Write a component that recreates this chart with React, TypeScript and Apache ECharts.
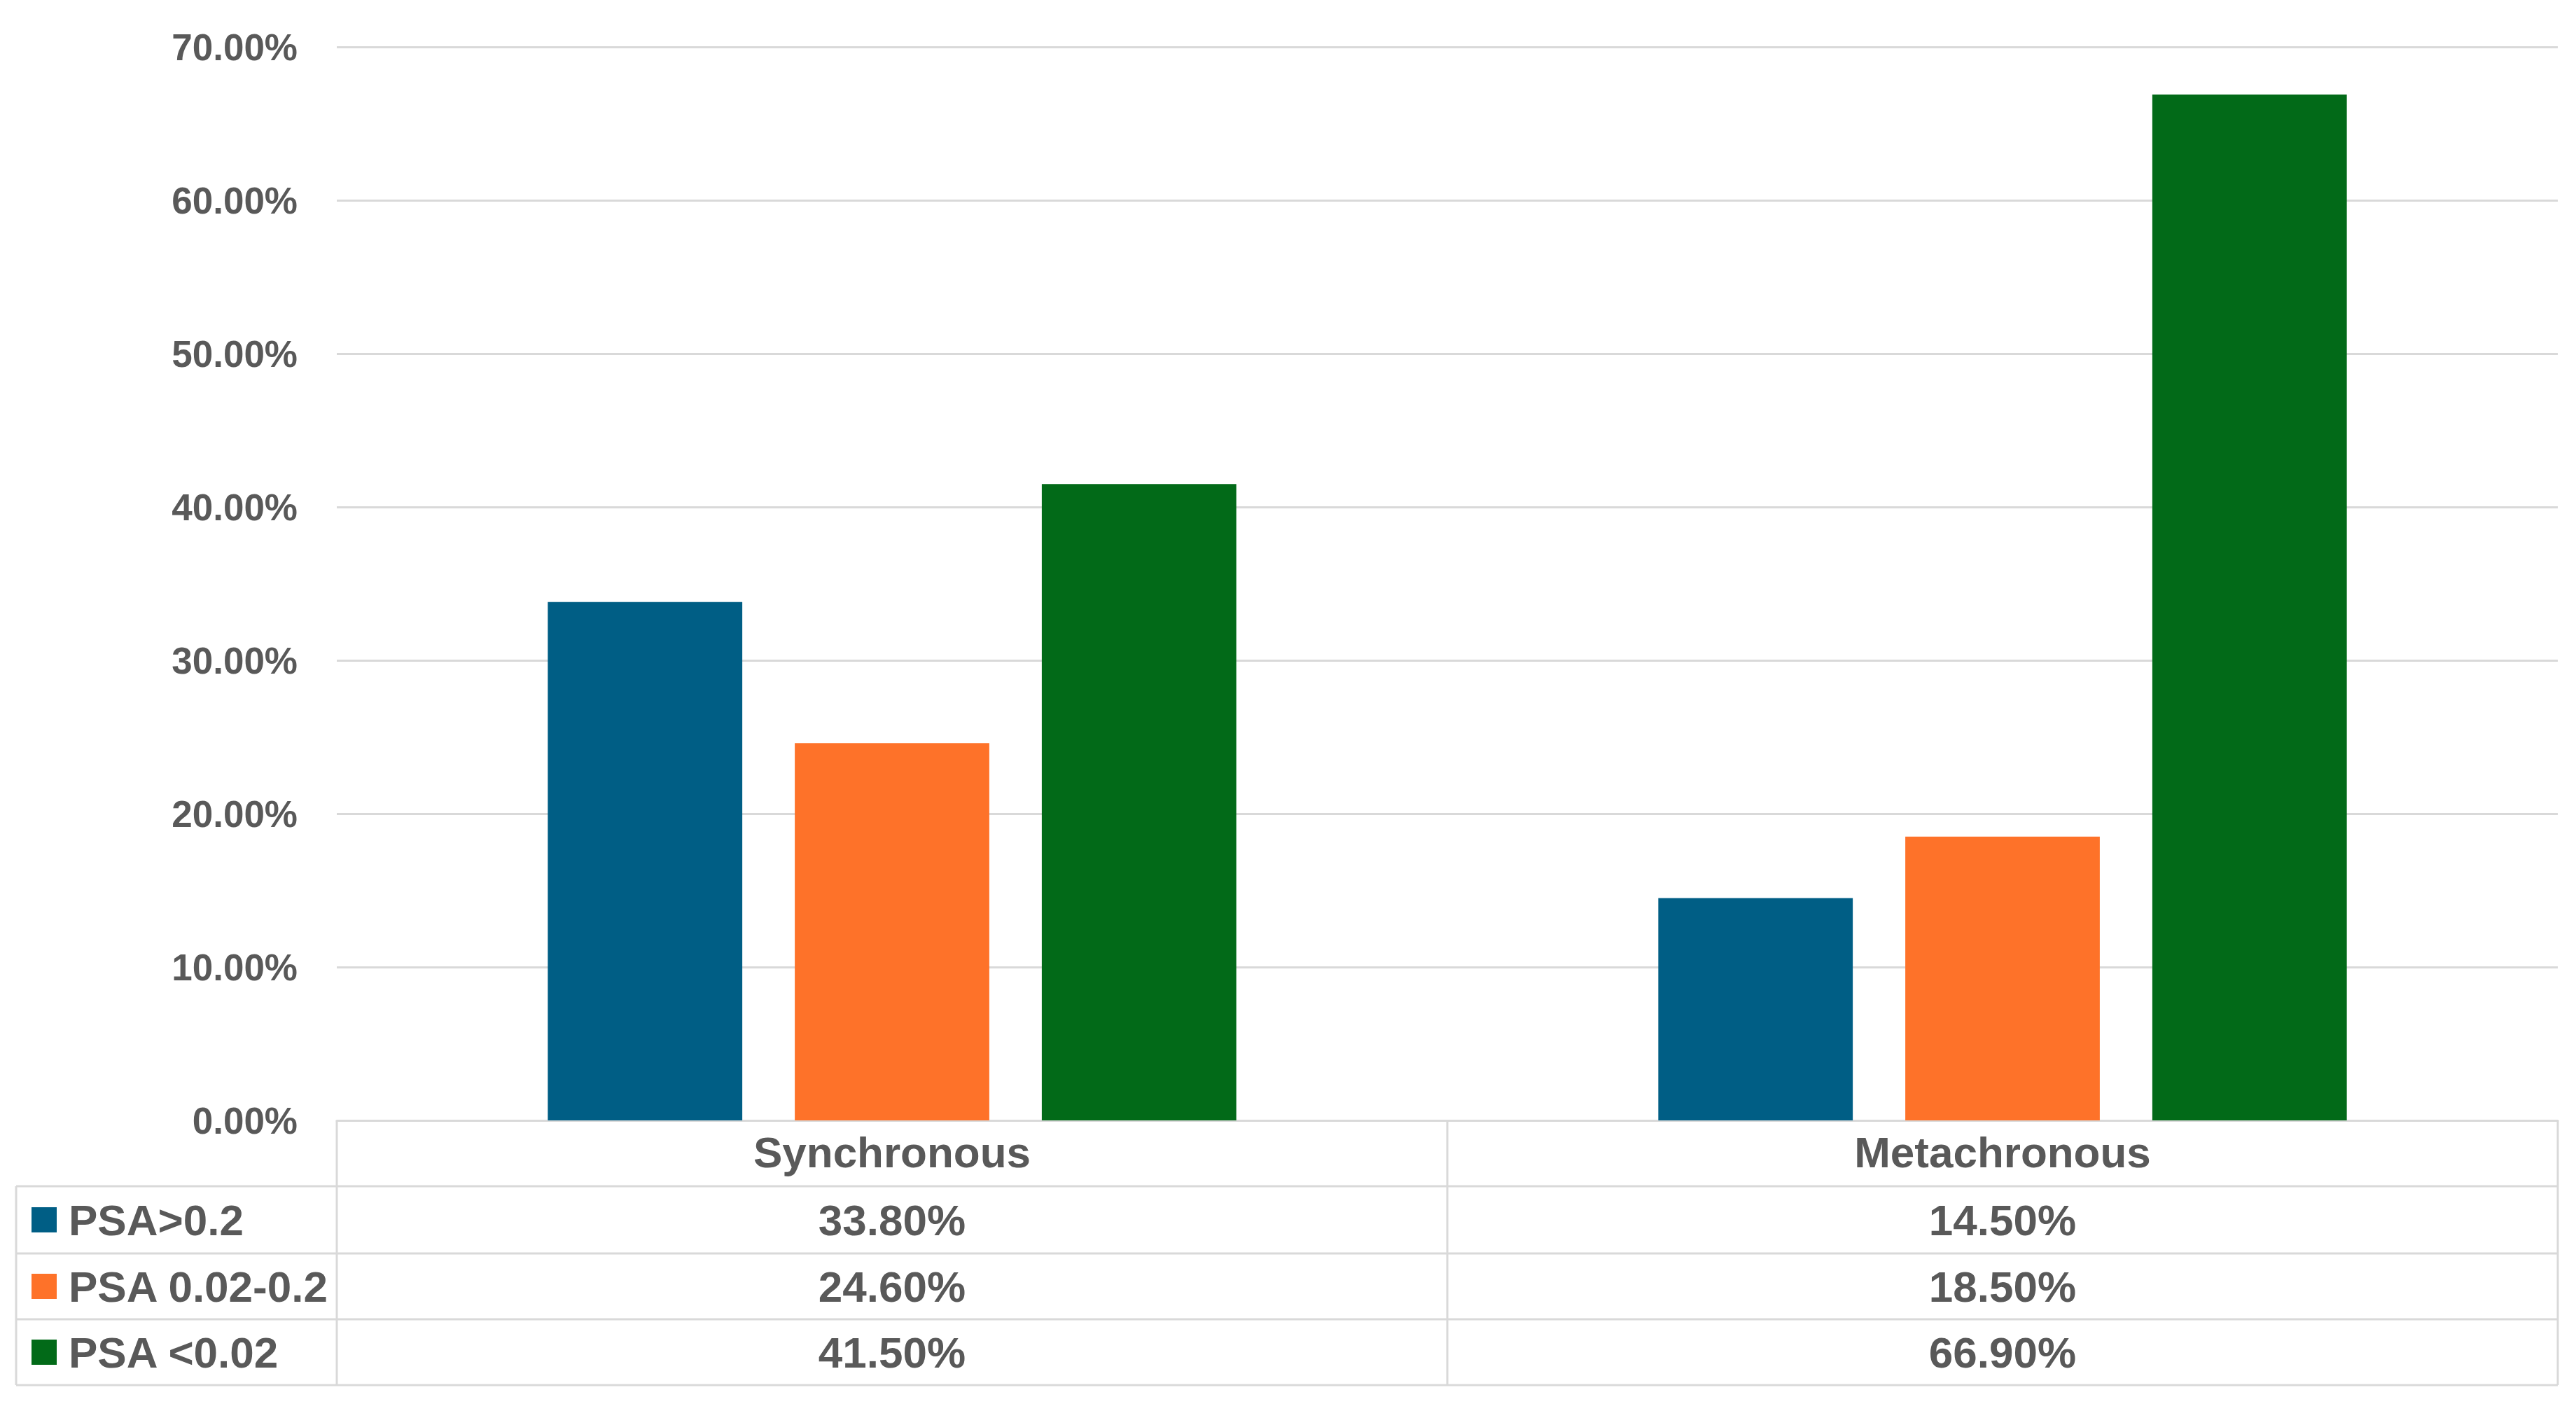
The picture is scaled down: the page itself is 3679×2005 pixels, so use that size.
import React, { useEffect, useRef } from "react";
import * as echarts from "echarts";

const categories = ["Synchronous", "Metachronous"];
const seriesNames = ["PSA>0.2", "PSA 0.02-0.2", "PSA <0.02"];
const psaHigh = [33.8, 14.5];
const psaMid = [24.6, 18.5];
const psaLow = [41.5, 66.9];
const seriesValues = [psaHigh, psaMid, psaLow];
const seriesColors = ["#005E85", "#FE7229", "#026A18"];
const yMin = 0;
const yMax = 70;
const yInterval = 10;

const W = 3679;
const H = 2005;
const GRID_LEFT = 481;
const GRID_RIGHT_X = 3653;
const GRID_TOP = 67;
const ZERO_Y = 1600;
const TABLE_LEFT = 23;
const ROW_LINES = [1694, 1790, 1884, 1978];
const TEXT_COLOR = "#595959";
const LINE_COLOR = "#D9D9D9";
const FONT = "Liberation Sans, Arial, sans-serif";
const TABLE_FONT_SIZE = 62;

const fmtPct = (v: number) => v.toFixed(2) + "%";

export default function App() {
  const ref = useRef<HTMLDivElement>(null);
  useEffect(() => {
    if (!ref.current) return;
    const chart = echarts.init(ref.current, undefined, { renderer: "svg", width: W, height: H });
    chart.setOption({
      animation: false,
      backgroundColor: "#ffffff",
      textStyle: { fontFamily: FONT },
      grid: {
        left: GRID_LEFT,
        right: W - GRID_RIGHT_X,
        top: GRID_TOP,
        bottom: H - ZERO_Y,
        containLabel: false,
      },
      xAxis: {
        type: "category",
        data: categories,
        axisLine: { show: true, lineStyle: { color: LINE_COLOR, width: 3 } },
        axisTick: { show: false },
        axisLabel: {
          show: true,
          color: TEXT_COLOR,
          fontSize: TABLE_FONT_SIZE,
          fontWeight: "bold",
          fontFamily: FONT,
          lineHeight: TABLE_FONT_SIZE,
          margin: 14,
        },
      },
      yAxis: {
        type: "value",
        min: yMin,
        max: yMax,
        interval: yInterval,
        axisLine: { show: false },
        axisTick: { show: false },
        splitLine: { show: true, lineStyle: { color: LINE_COLOR, width: 3 } },
        axisLabel: {
          color: TEXT_COLOR,
          fontSize: 53,
          fontWeight: "bold",
          fontFamily: FONT,
          margin: 56,
          formatter: (v: number) => fmtPct(v),
        },
      },
      series: seriesNames.map((name, i) => ({
        name,
        type: "bar",
        data: seriesValues[i],
        itemStyle: { color: seriesColors[i] },
        barCategoryGap: "38%",
        barGap: "27%",
      })),
    });

    const centers = categories.map((_, ci) =>
      chart.convertToPixel({ xAxisIndex: 0 }, ci) as number
    );
    const midX = (GRID_LEFT + GRID_RIGHT_X) / 2;
    const elements: any[] = [];
    const line = (x1: number, y1: number, x2: number, y2: number) =>
      elements.push({
        type: "line",
        shape: { x1, y1, x2, y2 },
        style: { stroke: LINE_COLOR, lineWidth: 3 },
        silent: true,
      });
    ROW_LINES.forEach((y) => line(TABLE_LEFT, y, GRID_RIGHT_X, y));
    line(TABLE_LEFT, ROW_LINES[0], TABLE_LEFT, ROW_LINES[ROW_LINES.length - 1]);
    line(GRID_LEFT, ZERO_Y, GRID_LEFT, ROW_LINES[ROW_LINES.length - 1]);
    line(midX, ZERO_Y, midX, ROW_LINES[ROW_LINES.length - 1]);
    line(GRID_RIGHT_X, ZERO_Y, GRID_RIGHT_X, ROW_LINES[ROW_LINES.length - 1]);

    seriesNames.forEach((name, si) => {
      const yc = (ROW_LINES[si] + ROW_LINES[si + 1]) / 2;
      elements.push({
        type: "rect",
        shape: { x: 45, y: yc - 18, width: 36, height: 36 },
        style: { fill: seriesColors[si] },
        silent: true,
      });
      elements.push({
        type: "text",
        style: {
          text: name,
          x: 98,
          y: yc,
          fill: TEXT_COLOR,
          font: `bold ${TABLE_FONT_SIZE}px ${FONT}`,
          align: "left",
          verticalAlign: "middle",
          textAlign: "left",
          textVerticalAlign: "middle",
        },
        silent: true,
      });
      seriesValues[si].forEach((v, ci) => {
        elements.push({
          type: "text",
          style: {
            text: fmtPct(v),
            x: centers[ci],
            y: yc,
            fill: TEXT_COLOR,
            font: `bold ${TABLE_FONT_SIZE}px ${FONT}`,
            align: "center",
            verticalAlign: "middle",
            textAlign: "center",
            textVerticalAlign: "middle",
          },
          silent: true,
        });
      });
    });
    chart.setOption({ graphic: { elements } });

    return () => chart.dispose();
  }, []);
  return (
    <div
      ref={ref}
      style={{ position: "fixed", left: 0, top: 0, width: W, height: H, background: "#fff" }}
    />
  );
}
